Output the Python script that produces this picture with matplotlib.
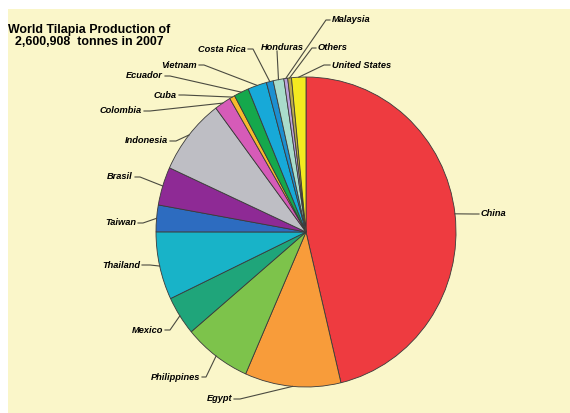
import numpy as np
import matplotlib.pyplot as plt
from matplotlib.patches import Rectangle

# share of world production (%), clockwise from the top
countries = ["China", "Egypt", "Philippines", "Mexico", "Thailand", "Taiwan",
             "Brasil", "Indonesia", "Colombia", "Cuba", "Ecuador", "Vietnam",
             "Costa Rica", "Honduras", "Malaysia", "Others", "United States"]
shares = [46.25, 10.33, 7.28, 4.06, 7.08, 2.78,
          4.00, 7.94, 1.78, 0.58, 1.61, 2.04,
          0.74, 1.15, 0.41, 0.41, 1.54]
colors = ["#ee3b40", "#f89c3a", "#7dc34b", "#1fa57a", "#18b3c8", "#2d6cc0",
          "#8e2a95", "#bebec4", "#d65bb8", "#f8ba2c", "#15a84c", "#17a9d8",
          "#1d8fd0", "#a9dccb", "#bba1da", "#b9aa4b", "#f3ea20"]

title = "World Tilapia Production of\n2,600,908  tonnes in 2007"

# label layout in image pixels (top-left origin): text x, text y, ha, line start x, y, stub
label_pos = {
    "China":         (481, 214, "left", 479, 215, -6),
    "Egypt":         (232, 399, "right", 234, 400, 6),
    "Philippines":   (200, 378, "right", 202, 378, 4),
    "Mexico":        (163, 331, "right", 165, 331, 5),
    "Thailand":      (140, 266, "right", 142, 266, 8),
    "Taiwan":        (136, 223, "right", 138, 224, 5),
    "Brasil":        (133, 177, "right", 135, 178, 5),
    "Indonesia":     (168, 141, "right", 170, 142, 6),
    "Colombia":      (142, 111, "right", 144, 112, 6),
    "Cuba":          (177, 95, "right", 179, 96, 5),
    "Ecuador":       (163, 76, "right", 165, 77, 5),
    "Vietnam":       (197, 65, "right", 199, 66, 5),
    "Costa Rica":    (246, 49, "right", 248, 50, 5),
    "Honduras":      (282, 47, "center", 277, 52, 0),
    "Malaysia":      (332, 19, "left", 330, 21, -4),
    "Others":        (318, 47, "left", 316, 49, -4),
    "United States": (332, 65, "left", 330, 66, -6),
}

W, H = 570, 414
cx, cy, rx, ry = 306, 233, 150, 155
cream = "#faf6c9"
lab_font = ["Liberation Sans Narrow", "Liberation Sans", "DejaVu Sans"]

fig = plt.figure(figsize=(W / 100, H / 100), dpi=100)
fig.patch.set_facecolor("white")
fig.add_artist(Rectangle((8 / W, 0), 1, (H - 10) / H, transform=fig.transFigure,
                         facecolor=cream, edgecolor="none", zorder=0))

ax = fig.add_axes([(cx - rx) / W, (H - cy - ry) / H, 2 * rx / W, 2 * ry / H])
wedges, _ = ax.pie(shares, colors=colors, startangle=90, counterclock=False,
                   radius=1, wedgeprops=dict(edgecolor="#3a3a3a", linewidth=0.6))
ax.set_aspect("auto")
ax.set_xlim(-1, 1)
ax.set_ylim(-1, 1)
ax.axis("off")

ov = fig.add_axes([0, 0, 1, 1])
ov.set_xlim(0, W)
ov.set_ylim(H, 0)
ov.axis("off")

for name, w in zip(countries, wedges):
    tx, ty, ha, sx, sy, stub = label_pos[name]
    mid = np.deg2rad((w.theta1 + w.theta2) / 2)
    ex = cx + rx * np.cos(mid)
    ey = cy - ry * np.sin(mid)
    ov.plot([sx, sx + stub, ex], [sy, sy, ey], color="#4a4a40", lw=0.8)
    ov.text(tx, ty, name, ha=ha, va="center", fontsize=6.7, fontweight="bold",
            fontstyle="italic", family=lab_font, color="black")

ov.text(89, 36, title, ha="center", va="center", multialignment="center",
        fontsize=8.9, fontweight="bold", family=lab_font, linespacing=1.0)

fig.savefig("out.png", dpi=100, facecolor=fig.get_facecolor())
